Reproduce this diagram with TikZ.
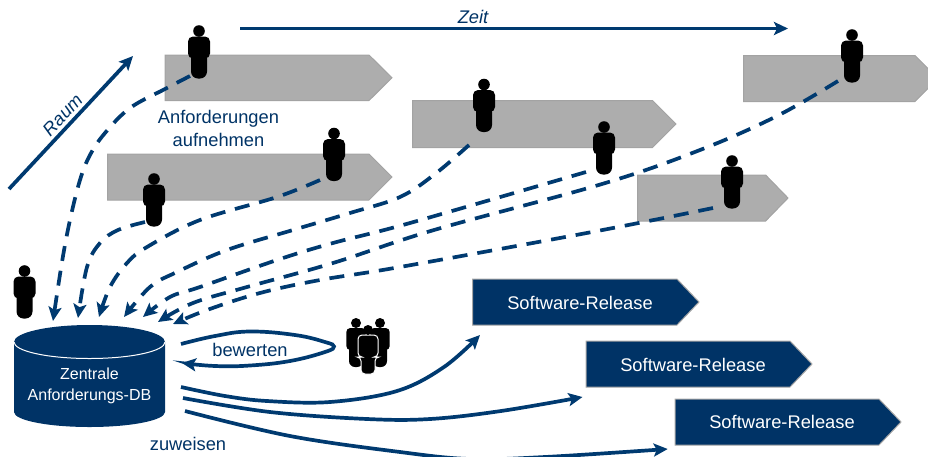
\documentclass[tikz,border=0pt]{standalone}
\usepackage{fontspec}
\setmainfont{Liberation Sans}
\usetikzlibrary{arrows.meta}
\definecolor{navy}{HTML}{003366}
\definecolor{lineblue}{HTML}{003A70}
\definecolor{barfill}{HTML}{ADADAD}
\definecolor{baredge}{HTML}{A3A3A3}
\tikzset{
  lab/.style={text=navy,font=\fontsize{18.3}{23}\selectfont,align=center,inner sep=0pt},
  whitelab/.style={text=white,font=\fontsize{18.3}{23}\selectfont,align=center,inner sep=0pt},
  relbar/.style={fill=navy,draw=black!35!white,line width=1pt},
  graybar/.style={fill=barfill,draw=baredge,line width=1pt},
  dashconn/.style={draw=lineblue,line width=3.7pt,dash pattern=on 15pt off 10pt,-{Stealth[length=14pt,width=13pt,inset=3pt,sep=0pt]},smooth,tension=0.6},
  solidconn/.style={draw=lineblue,line width=3.7pt,-{Stealth[length=14pt,width=13pt,inset=3pt]}},
  person/.pic={
    \fill[black] (0,0) circle (5.8);
    \fill[black,rounded corners=5pt] (-11,5.5) -- (11,5.5) -- (11,27.5) -- (-11,27.5) -- cycle;
    \fill[black,rounded corners=7pt] (-8,20) -- (8,20) -- (8,47.5) -- (-8,47.5) -- cycle;
  },
  personb/.pic={
    \fill[black] (0,0) circle (5);
    \fill[black,rounded corners=4pt] (-9.7,5) -- (9.7,5) -- (9.7,27) -- (-9.7,27) -- cycle;
    \fill[black,rounded corners=6pt] (-7,20) -- (7,20) -- (7,44) -- (-7,44) -- cycle;
  },
  personw/.pic={
    \fill[black,draw=white,line width=1pt,rounded corners=4pt] (-10,5) -- (10,5) -- (10,27) -- (7,27) -- (7,44) -- (-7,44) -- (-7,27) -- (-10,27) -- cycle;
    \fill[black] (0,0) circle (5);
  }
}
\newcommand{\pentabar}[7]{% name, x1, y1, x2 shoulder, y2, tip, style
  \draw[#7] (#2,#3) -- (#4,#3) -- (#6,{(#3+#5)/2}) -- (#4,#5) -- (#2,#5) -- cycle;
  \coordinate (#1) at ({(#2+#6)/2},{(#3+#5)/2});
}
\begin{document}
\begin{tikzpicture}[x=1pt,y=-1pt]
\useasboundingbox (0,0) rectangle (928,456);
\clip (0,0) rectangle (928,456);
% grey bars
\pentabar{g1}{165}{55}{369}{100.5}{392}{graybar}
\pentabar{g2}{107.5}{154}{369}{200}{392}{graybar}
\pentabar{g3}{412.5}{100.5}{652.5}{147.5}{676}{graybar}
\pentabar{g4}{743.5}{55.5}{915}{101.5}{938}{graybar}
\pentabar{g5}{637.7}{175}{765.6}{221}{788}{graybar}
% release bars
\pentabar{r1}{472.7}{279}{677}{325}{699}{relbar}
\pentabar{r2}{586}{341}{790}{387}{812}{relbar}
\pentabar{r3}{675}{399}{879}{445}{901}{relbar}
\node[whitelab] (t1) at (580,303) {Software-Release};
\node[whitelab] (t2) at (693,365) {Software-Release};
\node[whitelab] (t3) at (782,422) {Software-Release};
% database
\fill[navy] (14,342) -- (14,412) arc[start angle=180,end angle=0,x radius=75.5,y radius=15] -- (165,342) arc[start angle=0,end angle=-180,x radius=75.5,y radius=17] -- cycle;
\draw[white,line width=1pt] (14,342) arc[start angle=180,end angle=0,x radius=75.5,y radius=16.5];
\node[whitelab,font=\fontsize{16}{21}\selectfont] (db) at (89.5,385.5) {Zentrale\\Anforderungs-DB};
% anchor points
\coordinate (a1) at (190,76);
\coordinate (a2) at (145,222);
\coordinate (a3) at (320,180);
\coordinate (a4) at (469,145);
\coordinate (a5) at (586,172);
\coordinate (a6) at (838,81);
\coordinate (a7) at (713,208);
\coordinate (d1) at (53,321);
\coordinate (d2) at (78,318);
\coordinate (d3) at (99,317);
\coordinate (d4) at (124,317);
\coordinate (d5) at (143,317);
\coordinate (d6) at (158,322);
\coordinate (d7) at (173,324);
% dashed connectors
\draw[dashconn] plot coordinates {(a1) (165,89) (130,108) (105,133) (90,155) (80,180) (70,220) (62,262) (d1)};
\draw[dashconn] plot coordinates {(a2) (118,230) (100,243) (87,267) (d2)};
\draw[dashconn] plot coordinates {(a3) (277,197) (200,220) (147,247) (127,263) (110,287) (d3)};
\draw[dashconn] plot coordinates {(a4) (435,174) (400,197) (350,213) (293,230) (227,250) (177,272) (150,287) (d4)};
\draw[dashconn] plot coordinates {(a5) (410,223) (333,243) (277,260) (200,287) (170,297) (d5)};
\draw[dashconn] plot coordinates {(a6) (777,116) (700,150) (602,184) (434,230) (333,263) (247,287) (193,303) (d6)};
\draw[dashconn] plot coordinates {(a7) (592,232) (400,267) (320,280) (260,293) (207,310) (d7)};
% people
\pic at (199,31) {person};
\pic at (334,133.5) {person};
\pic at (154,179) {person};
\pic at (484,84.5) {person};
\pic at (604,127) {person};
\pic at (732,161) {person};
\pic at (852,35) {person};
\pic at (24.5,271) {person};
\pic at (356,323) {personb};
\pic at (380,323) {personb};
\pic at (368,330) {personw};
% axes
\coordinate (raum0) at (9,189);
\coordinate (raum1) at (133,56);
\coordinate (zeit0) at (240,28.5);
\coordinate (zeit1) at (788,28.5);
\draw[solidconn] (raum0) -- (raum1);
\draw[solidconn] (zeit0) -- (zeit1);
\node[lab,font=\itshape\fontsize{18.3}{20}\selectfont,rotate=47] (raum) at (62.5,115) {Raum};
\node[lab,font=\itshape\fontsize{18.3}{20}\selectfont] (zeit) at (473,17) {Zeit};
% labels
\node[lab] (anf) at (218.5,128) {Anforderungen\\aufnehmen};
\node[lab] (bew) at (250,350) {bewerten};
\node[lab] (zuw) at (188,444) {zuweisen};
% bewerten loop
\coordinate (b0) at (181,344);
\coordinate (b1) at (182,363);
\coordinate (b2) at (334,346.5);
\draw[solidconn,smooth,tension=0.7] plot coordinates {(b0) (215,336) (250,331.5) (295,335) (325,342) (b2) (325,352) (290,361) (250,365.5) (215,366) (b1)};
% release connectors
\coordinate (c1) at (181,387);
\coordinate (c2) at (183,398);
\coordinate (c3) at (185,411);
\coordinate (e1) at (480,335);
\coordinate (e2) at (582.5,397);
\coordinate (e3) at (667.7,449);
\draw[solidconn,smooth,tension=0.6] plot coordinates {(c1) (225,396) (267,401) (330,402) (397,391) (444,367) (e1)};
\draw[solidconn,smooth,tension=0.6] plot coordinates {(c2) (270,412) (367,419) (430,419) (501,411) (e2)};
\draw[solidconn,smooth,tension=0.6] plot coordinates {(c3) (290,436) (400,452) (470,459) (545,457) (e3)};
\end{tikzpicture}
\end{document}
